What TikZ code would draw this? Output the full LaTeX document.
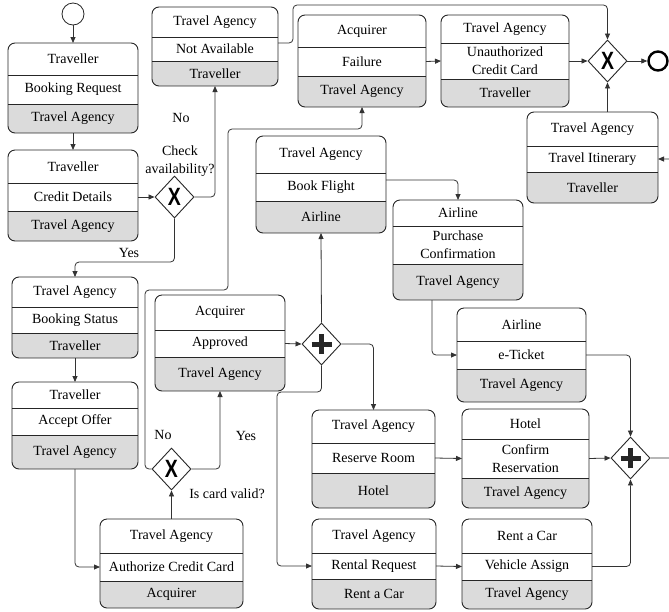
\documentclass[tikz,border=0pt]{standalone}
\usepackage{fontspec}
\setmainfont{Liberation Serif}
\newfontfamily\gwfont{Liberation Sans}
\usetikzlibrary{arrows.meta,positioning,shapes.geometric,backgrounds}

% three-band activity box: name, (centre x, top y), width, band heights, texts
\newcommand{\lanebox}[9]{%
    \node[band, minimum width=#3pt, minimum height=#4pt, anchor=north] (#1-h) at (#2) {#7};
    \node[band, minimum width=#3pt, minimum height=#5pt, below=0pt of #1-h] (#1-b) {#8};
    \node[band, minimum width=#3pt, minimum height=#6pt, below=0pt of #1-b] (#1-f) {#9};
    \begin{scope}[on background layer]
        \begin{scope}
            \clip[rounded corners=7pt] (#1-h.north west) rectangle (#1-f.south east);
            \fill[lanegray] (#1-f.north west) rectangle (#1-f.south east);
        \end{scope}
    \end{scope}
    \draw[boxrule] (#1-b.north west) -- (#1-b.north east) (#1-b.south west) -- (#1-b.south east);
    \draw[boxrule, rounded corners=7pt] (#1-h.north west) rectangle (#1-f.south east);
}
\newcommand{\gwmark}{\scalebox{0.78}[1]{\gwfont\bfseries\fontsize{25}{25}\selectfont X}}

\begin{document}
\begin{tikzpicture}[x=1pt, y=-1pt, font=\fontsize{14}{18}\selectfont,
    lanegray/.style={fill=black!14},
    boxrule/.style={draw=black!85, line width=0.9pt},
    band/.style={inner sep=1pt, outer sep=0pt, align=center},
    seqflow/.style={draw=black!80, line width=0.8pt, rounded corners=4pt, -{Triangle[length=6pt,width=5pt]}},
    gateway/.style={diamond, draw=black!85, line width=0.9pt, fill=white, minimum width=39pt, minimum height=42pt, inner sep=0pt},
    xorgw/.style={gateway},
    andgw/.style={gateway, path picture={
        \draw[line width=5pt] ([xshift=-10pt]path picture bounding box.center) -- ([xshift=10pt]path picture bounding box.center)
            ([yshift=-10pt]path picture bounding box.center) -- ([yshift=10pt]path picture bounding box.center);}},
    startev/.style={circle, draw=black!85, line width=0.8pt, minimum size=22pt, inner sep=0pt},
    endev/.style={circle, draw=black, line width=2.4pt, minimum size=19pt, inner sep=0pt}]
    \useasboundingbox (0,0) rectangle (669,611);
    \clip (0,0) rectangle (669,611);

    \lanebox{br}{73,43}{130}{32}{29}{29}{Traveller}{Booking Request}{Travel Agency}
    \lanebox{cd}{73,150}{130}{33}{28}{30}{Traveller}{Credit Details}{Travel Agency}
    \lanebox{na}{215,7}{126}{30}{24}{25}{Travel Agency}{Not Available}{Traveller}
    \lanebox{fl}{362,15}{128}{32}{29}{31}{Acquirer}{Failure}{Travel Agency}
    \lanebox{uc}{505,15}{128}{28}{36}{28}{Travel Agency}{Unauthorized\\Credit Card}{Traveller}
    \lanebox{ti}{592.5,112}{131}{34}{26}{31}{Travel Agency}{Travel Itinerary}{Traveller}
    \lanebox{bf}{321,136}{130}{37}{28}{32}{Travel Agency}{Book Flight}{Airline}
    \lanebox{pc}{458,200}{130}{26}{38}{36}{Airline}{Purchase\\Confirmation}{Travel Agency}
    \lanebox{et}{521.5,308}{129}{33}{28}{33}{Airline}{e-Ticket}{Travel Agency}
    \lanebox{bs}{75,277}{126}{30}{26}{25}{Travel Agency}{Booking Status}{Traveller}
    \lanebox{ao}{75,382}{126}{26}{27}{34}{Traveller}{Accept Offer}{Travel Agency}
    \lanebox{ap}{220,295}{130}{35}{27}{34}{Acquirer}{Approved}{Travel Agency}
    \lanebox{ac}{171.5,519}{143}{34}{28}{27}{Travel Agency}{Authorize Credit Card}{Acquirer}
    \lanebox{rr}{373.5,410}{123}{33}{30}{35}{Travel Agency}{Reserve Room}{Hotel}
    \lanebox{cr}{525.5,409}{127}{30}{39}{30}{Hotel}{Confirm\\Reservation}{Travel Agency}
    \lanebox{rq}{374,519}{124}{34}{26}{30}{Travel Agency}{Rental Request}{Rent a Car}
    \lanebox{va}{527,519}{130}{34}{27}{29}{Rent a Car}{Vehicle Assign}{Travel Agency}

    \node[startev] (start) at (73,14) {};
    \node[endev] (end) at (658,61) {};
    \node[xorgw] (g1) at (174.5,197) {\gwmark};
    \node[xorgw] (g2) at (607.5,61) {\gwmark};
    \node[xorgw] (g3) at (171.5,469) {\gwmark};
    \node[andgw] (and1) at (321.5,344) {};
    \node[andgw] (and2) at (630.5,458) {};

    \node[align=center] (lblcheck) at (180,161) {Check\\availability?};
    \node (lblno1) at (181,118) {No};
    \node (lblyes1) at (129,253) {Yes};
    \node (lblno2) at (163,435) {No};
    \node (lblyes2) at (246,436) {Yes};
    \node (lblvalid) at (227,494) {Is card valid?};

    \draw[seqflow] (start) -- (br-h.north);
    \draw[seqflow] (br-f.south) -- (cd-h.north);
    \draw[seqflow] (cd-b.east) -- (g1.west);
    \draw[seqflow] (g1.east) -| (na-f.south);
    \draw[seqflow] (g1.south) |- (bs-h.north |- 0,262) -- (bs-h.north);
    \draw[seqflow] (bs-f.south) -- (ao-h.north);
    \draw[seqflow] (ao-f.south) |- (ac-b.west);
    \draw[seqflow] (ac-h.north) -- (g3.south);
    \draw[seqflow] (g3.east) -| (ap-f.south);
    \draw[seqflow] (g3.west) -| (145,290) -| (228,129) -| (fl-f.south);
    \draw[seqflow] (ap-b.east) -- (and1.west);
    \draw[seqflow] (and1.north) -- (bf-f.south);
    \draw[seqflow] (and1.east) -| (rr-h.north);
    \draw[seqflow] (and1.south) |- (277,392) |- (rq-b.west);
    \draw[seqflow] ([yshift=7pt]bf-b.east) -| (pc-h.north);
    \draw[seqflow] ([xshift=-26pt]pc-f.south) |- (et-b.west);
    \draw[seqflow] (et-b.east) -| (and2.north);
    \draw[seqflow] (rr-b.east) -- (cr-b.west);
    \draw[seqflow] (cr-b.east) -- (and2.west);
    \draw[seqflow] (rq-b.east) -- (va-b.west);
    \draw[seqflow] (va-b.east) -| (and2.south);
    \draw[seqflow] (and2.east) -- (685,458) |- (ti-b.east);
    \draw[seqflow] ([yshift=6pt]na-b.east) -| (293,5) -| (g2.north);
    \draw[seqflow] (fl-b.east) -- (uc-b.west);
    \draw[seqflow] (uc-b.east) -- (g2.west);
    \draw[seqflow] (ti-h.north -| g2.south) -- (g2.south);
    \draw[seqflow] (g2.east) -- (end);
\end{tikzpicture}
\end{document}
